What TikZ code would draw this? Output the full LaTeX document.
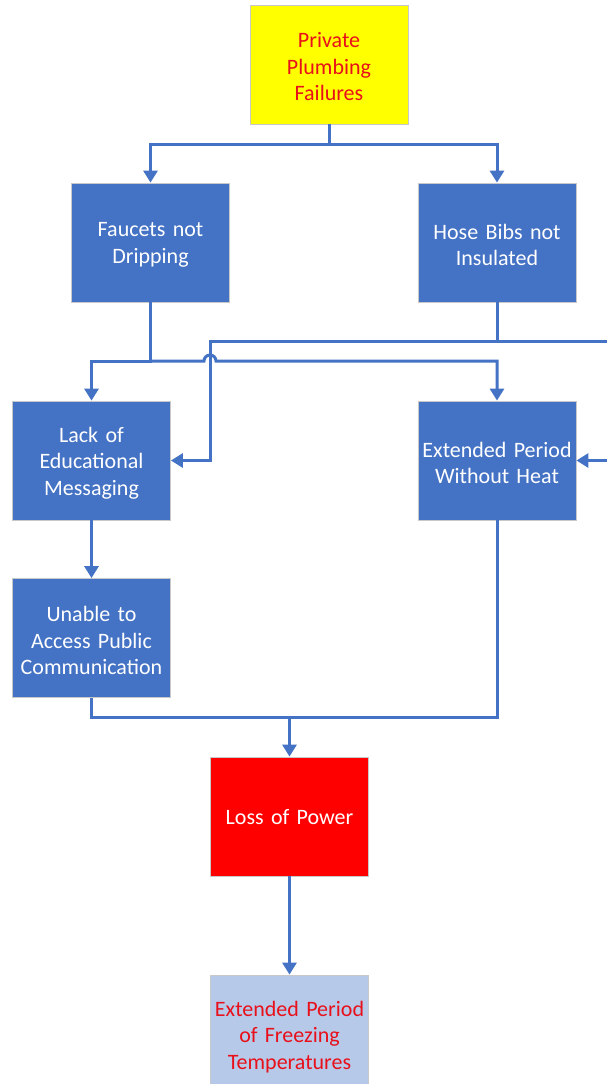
\documentclass[tikz,border=0pt]{standalone}
\usepackage{fontspec}
\setmainfont{Carlito}
\usetikzlibrary{arrows.meta}
\definecolor{mblue}{HTML}{4472C4}
\definecolor{lblue}{HTML}{B7C9E8}
\definecolor{myyellow}{HTML}{FFFF00}
\definecolor{myred}{HTML}{FF0000}
\definecolor{txtred}{HTML}{E8101A}
\definecolor{edge}{HTML}{C8C8C8}
\newcommand{\boxtail}{\endgraf\vspace*{-5pt}}
\begin{document}
\begin{tikzpicture}[x=1pt,y=-1pt,
  box/.style={rectangle, minimum width=158pt, minimum height=119pt, inner sep=0pt,
    draw=edge, line width=0.8pt, align=center,
    execute at end node={\boxtail},
    font=\fontsize{22pt}{26.5pt}\selectfont, text width=154pt},
  bluebox/.style={box, fill=mblue, text=white},
  line/.style={draw=mblue, line width=3pt},
  arr/.style={line, -{Triangle[width=14pt,length=12pt]}}]
\useasboundingbox (0,0) rectangle (607,1084);
\node[box, fill=myyellow, text=txtred] (top) at (329,64.5) {Private\\Plumbing\\Failures};
\node[bluebox] (faucets) at (150.5,242.5) {Faucets not\\Dripping};
\node[bluebox] (hose) at (497,242.5) {Hose Bibs not\\Insulated};
\node[bluebox] (lack) at (91.5,460.5) {Lack of\\Educational\\Messaging};
\node[bluebox] (heat) at (497,460.5) {Extended Period\\Without Heat};
\node[bluebox] (unable) at (91.5,638) {Unable to\\Access Public\\Communication};
\node[box, fill=myred, text=white] (power) at (289.5,816.5) {Loss of Power};
\node[box, fill=lblue, text=txtred] (freeze) at (289.5,1034.5) {Extended Period\\of Freezing\\Temperatures};

\coordinate (j1) at (329,144);
\coordinate (j2) at (150.5,361);
\coordinate (j3) at (497,341);
\coordinate (j4) at (289.5,717);
\coordinate (hop) at (204,361);
\coordinate (turn) at (210,341);
\coordinate (off1) at (640,341);
\coordinate (off2) at (640,460.5);

\draw[arr] (top.south) -- (j1) -| (faucets.north);
\draw[arr] (j1) -| (hose.north);
\draw[arr] (faucets.south) -- (j2) -| (lack.north);
\draw[arr] (j2) -- (hop) arc[start angle=180, end angle=0, radius=6pt] -| (heat.north);
\draw[arr] (hose.south) -- (j3) -- (turn) |- (lack.east);
\draw[arr] (j3) -- (off1) -- (off2) -- (heat.east);
\draw[arr] (lack.south) -- (unable.north);
\draw[line] (unable.south) -- ++(0,19.5) -| (heat.south);
\draw[arr] (j4) -- (power.north);
\draw[arr] (power.south) -- (freeze.north);
\end{tikzpicture}
\end{document}
